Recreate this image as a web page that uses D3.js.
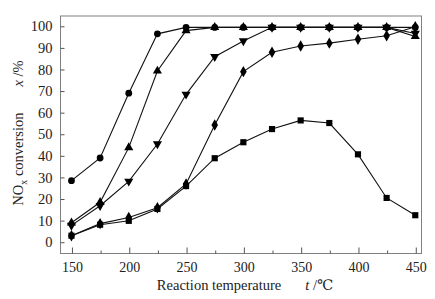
<!DOCTYPE html>
<html>
<head>
<meta charset="utf-8">
<script src="https://cdn.jsdelivr.net/npm/d3@7"></script>
<style>
  body { margin: 0; background: #fff; }
  text { font-family: "Liberation Serif", "DejaVu Serif", serif; fill: #222; }
</style>
</head>
<body>
<svg id="chart" width="435" height="299"></svg>
<script>
var temps = [150, 175, 200, 225, 250, 275, 300, 325, 350, 375, 400, 425, 450];

var circleSeries   = [28.5, 39, 69, 96.5, 99.5, 99.5, 99.5, 99.5, 99.5, 99.5, 99.5, 99.5, 99.5];
var triUpSeries    = [9, 18.5, 43.8, 79.3, 98, 99.5, 99.5, 99.5, 99.5, 99.5, 99.5, 99.5, 95.3];
var triDownSeries  = [7.8, 16.9, 28.2, 45.5, 68.5, 85.9, 93.2, 99.5, 99.5, 99.5, 99.5, 99.5, 96.7];
var diamondSeries  = [3, 8.6, 11.4, 16, 27, 54.3, 79, 88, 90.9, 92.2, 94, 95.6, 99.8];
var squareSeries   = [3, 8.1, 9.9, 15.4, 26, 38.9, 46.3, 52.4, 56.4, 55.2, 40.7, 20.5, 12.5];

var xMajorTicks = [150, 200, 250, 300, 350, 400, 450];
var xMinorTicks = [175, 225, 275, 325, 375, 425];
var yTicks = [0, 10, 20, 30, 40, 50, 60, 70, 80, 90, 100];

var LEFT = 60, RIGHT = 421, TOP = 15.5, BOTTOM = 253;

var svg = d3.select('#chart');

var xScale = d3.scaleLinear().domain([140, 455]).range([LEFT, RIGHT]);
var yScale = d3.scaleLinear().domain([-5, 105]).range([BOTTOM, TOP]);

// frame
svg.append('rect')
  .attr('x', LEFT + 0.5).attr('y', TOP + 0.5)
  .attr('width', RIGHT - LEFT).attr('height', BOTTOM - TOP)
  .attr('fill', 'none').attr('stroke', '#808080').attr('stroke-width', 1);

// x ticks point inward
var xAxis = d3.axisBottom(xScale).tickValues(xMajorTicks).tickSizeInner(-6).tickSizeOuter(0).tickPadding(9);
var gx = svg.append('g').attr('transform', 'translate(0.5,' + (BOTTOM + 0.5) + ')').call(xAxis);
gx.select('.domain').remove();
gx.selectAll('line').attr('stroke', '#555');
gx.selectAll('text').attr('font-size', '14px').attr('dy', '0.71em').attr('fill', '#222');

var xMinor = d3.axisBottom(xScale).tickValues(xMinorTicks).tickSizeInner(-3).tickSizeOuter(0).tickFormat('');
var gxm = svg.append('g').attr('transform', 'translate(0.5,' + (BOTTOM + 0.5) + ')').call(xMinor);
gxm.select('.domain').remove();
gxm.selectAll('line').attr('stroke', '#555');

var yAxis = d3.axisLeft(yScale).tickValues(yTicks).tickSizeInner(-4).tickSizeOuter(0).tickPadding(8);
var gy = svg.append('g').attr('transform', 'translate(' + (LEFT + 0.5) + ',0)').call(yAxis);
gy.select('.domain').remove();
gy.selectAll('line').attr('stroke', '#555');
gy.selectAll('text').attr('font-size', '14.5px').attr('fill', '#222');

// lines + markers
var line = d3.line()
  .x(function(d, i){ return xScale(temps[i]); })
  .y(function(d){ return yScale(d); });

var symbols = [
  { data: circleSeries,  type: d3.symbolCircle,   size: 36, rot: 0 },
  { data: triUpSeries,   type: d3.symbolTriangle, size: 36, rot: 0 },
  { data: triDownSeries, type: d3.symbolTriangle, size: 36, rot: 180 },
  { data: diamondSeries, type: d3.symbolDiamond,  size: 38, rot: 0 },
  { data: squareSeries,  type: d3.symbolSquare,   size: 38, rot: 0 }
];

symbols.forEach(function(s){
  svg.append('path')
    .attr('d', line(s.data))
    .attr('fill', 'none')
    .attr('stroke', '#111')
    .attr('stroke-width', 1.1);
});

symbols.forEach(function(s){
  svg.append('g').selectAll('path')
    .data(s.data)
    .enter().append('path')
    .attr('d', d3.symbol().type(s.type).size(s.size))
    .attr('transform', function(d, i){
      return 'translate(' + xScale(temps[i]) + ',' + yScale(d) + ') rotate(' + s.rot + ')';
    })
    .attr('fill', '#000');
});

// axis titles
var xt = svg.append('text')
  .attr('x', 245).attr('y', 290)
  .attr('text-anchor', 'middle')
  .attr('font-size', '14.5px');
xt.append('tspan').text('Reaction temperature');
xt.append('tspan').attr('dx', 24).attr('font-style', 'italic').text('t');
xt.append('tspan').text(' /℃');

var yt = svg.append('text')
  .attr('transform', 'translate(23,133) rotate(-90)')
  .attr('text-anchor', 'middle')
  .attr('font-size', '14.5px');
yt.append('tspan').text('NO');
yt.append('tspan').attr('font-size', '10px').attr('dy', 4).text('x');
yt.append('tspan').attr('dy', -4).text(' conversion');
yt.append('tspan').attr('dx', 26).attr('font-style', 'italic').text('x');
yt.append('tspan').text(' /%');
</script>
</body>
</html>
